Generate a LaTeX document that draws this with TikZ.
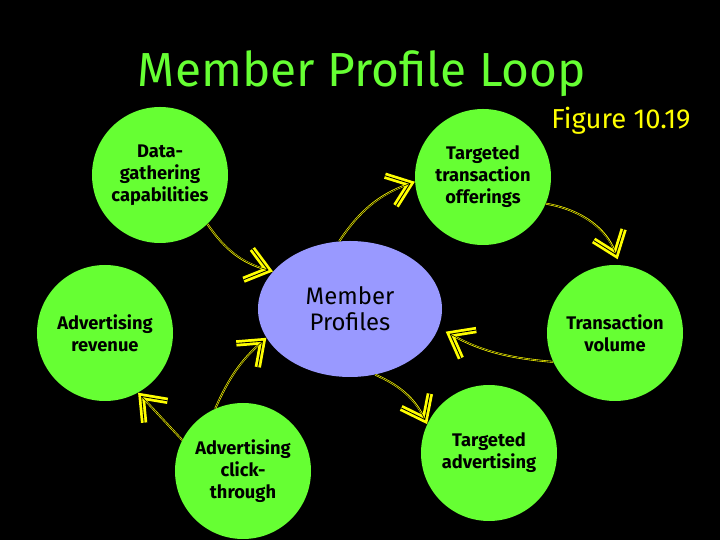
\documentclass[tikz,border=0pt]{standalone}
\usepackage{fontspec}
\setmainfont{Fira Sans}
\usetikzlibrary{shapes,arrows.meta,positioning,calc}
\definecolor{loopgreen}{RGB}{102,255,51}
\definecolor{profileblue}{RGB}{153,153,255}
\definecolor{arrowyellow}{RGB}{255,255,0}
\begin{document}
\begin{tikzpicture}[x=0.25mm,y=0.25mm,
    stage/.style={circle,fill=loopgreen,minimum size=34mm,inner sep=0pt,align=center,font=\bfseries\fontsize{13}{15.6}\selectfont},
    hub/.style={ellipse,fill=profileblue,minimum width=46mm,minimum height=34mm,inner sep=0pt,align=center,font=\fontsize{17}{18.5}\selectfont},
    feed/.style={draw=arrowyellow,line width=1.3pt,shorten >=#1,-{Straight Barb[length=5.2mm,width=8mm,line width=4.5pt]},
        postaction={draw=black,line width=0.4pt,-{Straight Barb[length=5.2mm,width=8mm,line width=0.6pt]},shorten >=#1+3.2pt}},
    feed/.default=0pt]
    \fill[black] (0,0) rectangle (720,540);
    \useasboundingbox (0,0) rectangle (720,540);
    % title
    \node[text=loopgreen,font=\fontsize{34}{40}\selectfont] (title) at (362,466) {Member Profile Loop};
    \node[text=arrowyellow,font=\fontsize{19.5}{22}\selectfont] (fig) at (621,419) {Figure 10.19};
    % the loop
    \node[hub] (member) at (350,231) {Member\\Profiles};
    \node[stage] (data) at (160,365) {Data-\\gathering\\capabilities};
    \node[stage] (offer) at (483,363) {Targeted\\transaction\\offerings};
    \node[stage] (revenue) at (105,207) {Advertising\\revenue};
    \node[stage] (volume) at (615,207) {Transaction\\volume};
    \node[stage] (click) at (243,69) {Advertising\\click-\\through};
    \node[stage] (adv) at (489,87) {Targeted\\advertising};
    % arrows
    \draw[feed] (data.-46) to[bend right=20] (member.154);
    \draw[feed] (member.99) to[bend left=18] (offer.184);
    \draw[feed=1.5mm] (offer.-23) to[bend left=30] (volume.86);
    \draw[feed=2mm] (volume.205) to[bend left=12] (member.-12);
    \draw[feed] (member.-69) to[bend left=20] (adv.155);
    \draw[feed] (click.114) to[bend left=12] (member.199);
    \draw[feed] (click.153) to (revenue.-61);
\end{tikzpicture}
\end{document}
